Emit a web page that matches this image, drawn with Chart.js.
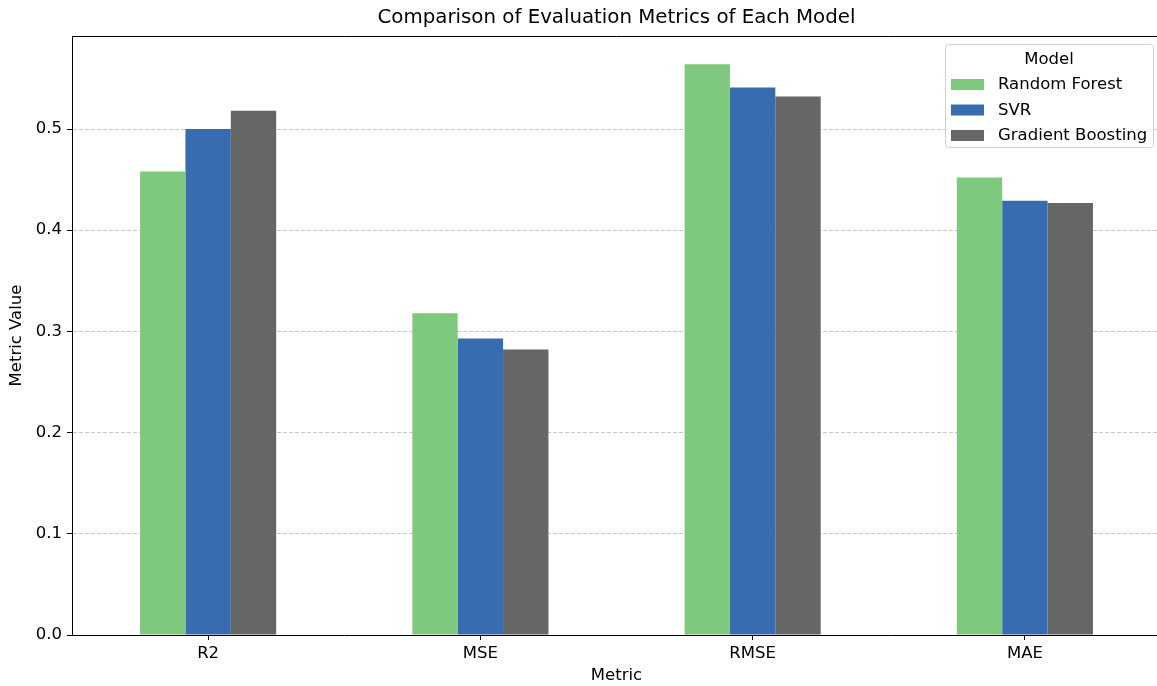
<!DOCTYPE html>
<html>
<head>
<meta charset="utf-8">
<script src="https://cdn.jsdelivr.net/npm/chart.js@4/dist/chart.umd.min.js"></script>
<style>
  html, body { margin: 0; padding: 0; background: #fff; overflow: hidden; }
  #wrap { width: 1157px; height: 686px; overflow: hidden; }
  canvas { display: block; }
</style>
</head>
<body>
<div id="wrap"><canvas id="metricsChart" width="1170" height="686"></canvas></div>
<script>
// Evaluation metrics per model
const metrics = ['R2', 'MSE', 'RMSE', 'MAE'];
const modelNames = ['Random Forest', 'SVR', 'Gradient Boosting'];
const randomForest = [0.458, 0.318, 0.564, 0.452];
const svr = [0.500, 0.293, 0.541, 0.429];
const gradientBoosting = [0.518, 0.282, 0.532, 0.427];
const yTicks = [0.0, 0.1, 0.2, 0.3, 0.4, 0.5];
const yMax = 0.5919;

const chartTitle = 'Comparison of Evaluation Metrics of Each Model';
const colors = ['#7fc97f', '#386cb0', '#666666'];
const FONT = 'DejaVu Sans';

// title over the axes, top spine, and legend box inside the plot (upper right)
const frameAndLegend = {
  id: 'frameAndLegend',
  afterDraw(chart) {
    const ctx = chart.ctx;
    const area = chart.chartArea;
    const sets = chart.data.datasets;

    ctx.save();
    // title centred on the plot area
    ctx.fillStyle = '#000';
    ctx.font = '19.8px "' + FONT + '"';
    ctx.textAlign = 'center';
    ctx.textBaseline = 'middle';
    ctx.fillText(chartTitle, (area.left + area.right) / 2, 18);

    // top spine
    ctx.strokeStyle = '#000';
    ctx.lineWidth = 1;
    ctx.beginPath();
    ctx.moveTo(area.left, area.top + 0.5);
    ctx.lineTo(area.right, area.top + 0.5);
    ctx.stroke();

    const boxW = 208, boxH = 103;
    const x = area.right - 8 - boxW;
    const y = area.top + 8;
    ctx.fillStyle = 'rgba(255,255,255,0.8)';
    ctx.strokeStyle = '#d0d0d0';
    ctx.beginPath();
    ctx.roundRect(x + 0.5, y + 0.5, boxW, boxH, 3);
    ctx.fill();
    ctx.stroke();

    ctx.fillStyle = '#000';
    ctx.font = '16.5px "' + FONT + '"';
    ctx.fillText('Model', x + boxW / 2, y + 16);

    ctx.textAlign = 'left';
    sets.forEach((ds, i) => {
      const rowY = y + 41 + i * 25.5;
      ctx.fillStyle = ds.backgroundColor;
      ctx.fillRect(x + 6, rowY - 6, 33, 11);
      ctx.fillStyle = '#000';
      ctx.fillText(ds.label, x + 53, rowY);
    });
    ctx.restore();
  }
};

new Chart(document.getElementById('metricsChart'), {
  type: 'bar',
  data: {
    labels: metrics,
    datasets: [
      { label: modelNames[0], data: randomForest, backgroundColor: colors[0] },
      { label: modelNames[1], data: svr, backgroundColor: colors[1] },
      { label: modelNames[2], data: gradientBoosting, backgroundColor: colors[2] }
    ]
  },
  options: {
    responsive: false,
    animation: false,
    devicePixelRatio: 1,
    categoryPercentage: 0.5,
    barPercentage: 1.0,
    layout: { padding: { left: 0, right: 9, top: 36, bottom: 0 } },
    plugins: {
      legend: { display: false },
      tooltip: { enabled: false },
      title: { display: false }
    },
    scales: {
      x: {
        offset: true,
        grid: { drawOnChartArea: false, drawTicks: true, tickLength: 5, tickColor: '#000', offset: false },
        border: { display: true, color: '#000', width: 1 },
        ticks: { color: '#000', padding: 4, font: { family: FONT, size: 16.5 } },
        title: {
          display: true, text: 'Metric', color: '#000',
          font: { family: FONT, size: 16.5 }, padding: { top: 0, bottom: 0 }
        },
        afterFit(scale) { scale.height = 51; }
      },
      y: {
        min: 0,
        max: yMax,
        afterBuildTicks(scale) { scale.ticks = yTicks.map(v => ({ value: v })); },
        grid: {
          color: ctx => ctx.tick && ctx.tick.value === 0 ? 'rgba(0,0,0,0)' : 'rgba(176,176,176,0.7)',
          lineWidth: 1,
          tickLength: 5,
          tickColor: '#000'
        },
        border: { display: true, color: '#000', width: 1, dash: [4, 2] },
        ticks: {
          color: '#000', padding: 5,
          font: { family: FONT, size: 16.5 },
          callback: v => Number(v).toFixed(1)
        },
        title: {
          display: true, text: 'Metric Value', color: '#000',
          font: { family: FONT, size: 16.5 }, padding: { top: 7, bottom: 0 }
        },
        afterFit(scale) { scale.width = 72; }
      }
    }
  },
  plugins: [frameAndLegend]
});
</script>
</body>
</html>
